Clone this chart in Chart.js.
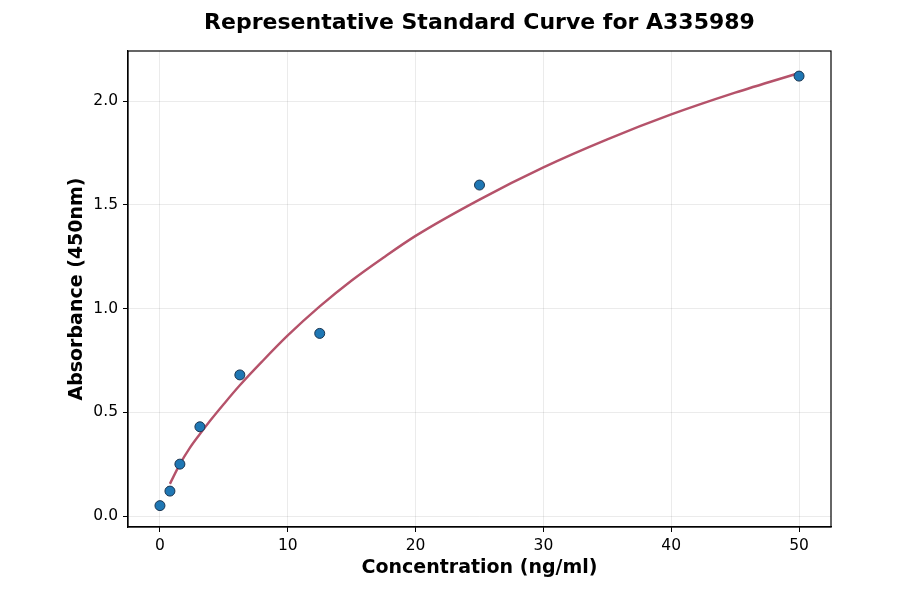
<!DOCTYPE html>
<html lang="en">
<head>
    <meta charset="UTF-8">
    <title>Representative Standard Curve for A335989</title>
    <script src="https://cdn.jsdelivr.net/npm/chart.js"></script>
    <style>
        body {
            margin: 0;
            padding: 0;
            background-color: white;
        }
        #wrap {
            width: 900px;
            height: 594px;
        }
    </style>
</head>
<body>
    <div id="wrap">
        <canvas id="chart" width="900" height="594"></canvas>
    </div>

    <script>
        // Standard points (concentration, absorbance)
        const concentrations = [0, 0.78, 1.56, 3.125, 6.25, 12.5, 25, 50];
        const absorbances = [0.05, 0.12, 0.25, 0.43, 0.68, 0.88, 1.595, 2.12];

        // Fitted curve
        const curveX = [0.78, 1.56, 2.3, 3.125, 4, 5, 6.25, 8, 10, 12.5, 15, 17.5, 20, 25, 30, 35, 40, 45, 50];
        const curveY = [0.155, 0.25, 0.325, 0.395, 0.465, 0.54, 0.63, 0.745, 0.87, 1.01, 1.135, 1.246, 1.35, 1.525, 1.68, 1.815, 1.935, 2.04, 2.135];

        // Tick labels
        const xTicks = [0, 10, 20, 30, 40, 50];
        const yTicks = [0, 0.5, 1.0, 1.5, 2.0];

        const points = concentrations.map((c, i) => ({ x: c, y: absorbances[i] }));
        const curve = curveX.map((c, i) => ({ x: c, y: curveY[i] }));

        const fontFamily = "'DejaVu Sans', sans-serif";

        // cadre complet autour de la zone du graphique
        const frame = {
            id: 'frame',
            afterDatasetsDraw(chart) {
                const a = chart.chartArea;
                const ctx = chart.ctx;
                ctx.save();
                ctx.strokeStyle = '#000';
                ctx.lineWidth = 1.2;
                ctx.strokeRect(a.left, a.top, a.right - a.left, a.bottom - a.top);
                ctx.restore();
            }
        };

        new Chart(document.getElementById('chart'), {
            type: 'scatter',
            data: {
                datasets: [{
                    label: 'Standards',
                    data: points,
                    backgroundColor: '#1f77b4',
                    borderColor: '#1b3550',
                    borderWidth: 1,
                    pointRadius: 5,
                    order: 0
                }, {
                    label: 'Fit',
                    type: 'line',
                    data: curve,
                    borderColor: '#b5526a',
                    borderWidth: 2.4,
                    pointRadius: 0,
                    fill: false,
                    cubicInterpolationMode: 'monotone',
                    order: 1
                }]
            },
            plugins: [frame],
            options: {
                responsive: false,
                animation: false,
                layout: { padding: { left: 0, right: 69, top: 0, bottom: 0 } },
                plugins: {
                    legend: { display: false },
                    tooltip: { enabled: false },
                    title: {
                        display: true,
                        text: 'Representative Standard Curve for A335989',
                        color: '#000',
                        fullSize: false,
                        font: { family: fontFamily, size: 22, weight: 'bold' },
                        padding: { top: 10, bottom: 14.6 }
                    }
                },
                scales: {
                    x: {
                        type: 'linear',
                        min: -2.5,
                        max: 52.5,
                        afterBuildTicks: scale => { scale.ticks = xTicks.map(v => ({ value: v })); },
                        afterFit: scale => { scale.height = 67; },
                        ticks: {
                            color: '#000',
                            font: { family: fontFamily, size: 15.5 },
                            padding: 5,
                            callback: v => String(v)
                        },
                        grid: {
                            color: 'rgba(0,0,0,0.08)',
                            tickColor: '#000',
                            tickLength: 5,
                            drawTicks: true
                        },
                        border: { color: '#000', width: 1.2 },
                        title: {
                            display: true,
                            text: 'Concentration (ng/ml)',
                            color: '#000',
                            font: { family: fontFamily, size: 19, weight: 'bold' },
                            padding: { top: 15, bottom: 15 }
                        }
                    },
                    y: {
                        type: 'linear',
                        min: -0.053,
                        max: 2.241,
                        afterBuildTicks: scale => { scale.ticks = yTicks.map(v => ({ value: v })); },
                        afterFit: scale => { scale.width = 128; },
                        ticks: {
                            color: '#000',
                            font: { family: fontFamily, size: 15.5 },
                            padding: 5,
                            callback: v => Number(v).toFixed(1)
                        },
                        grid: {
                            color: 'rgba(0,0,0,0.08)',
                            tickColor: '#000',
                            tickLength: 5,
                            drawTicks: true
                        },
                        border: { color: '#000', width: 1.2 },
                        title: {
                            display: true,
                            text: 'Absorbance (450nm)',
                            color: '#000',
                            font: { family: fontFamily, size: 19, weight: 'bold' },
                            padding: { top: 65.6, bottom: 65.6 }
                        }
                    }
                }
            }
        });
    </script>
</body>
</html>
